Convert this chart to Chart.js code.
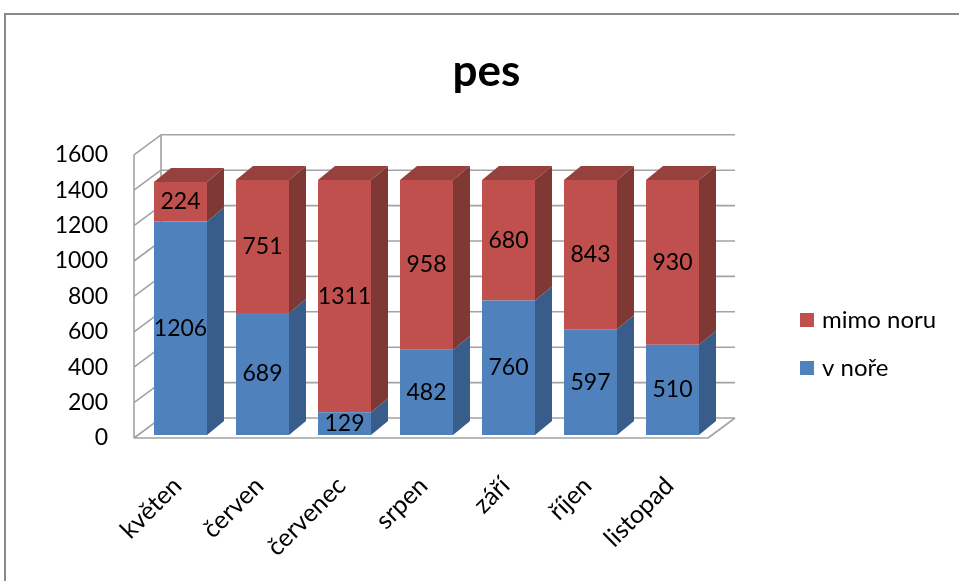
<!DOCTYPE html>
<html>
<head>
<meta charset="utf-8">
<script src="https://cdn.jsdelivr.net/npm/chart.js@4/dist/chart.umd.min.js"></script>
<style>
  html, body { margin: 0; padding: 0; background: #ffffff; }
  #wrap { width: 959px; height: 581px; position: relative; }
</style>
</head>
<body>
<div id="wrap"><canvas id="c" width="959" height="581"></canvas></div>
<script>
// Months and counts per month
const months = ['květen', 'červen', 'červenec', 'srpen', 'září', 'říjen', 'listopad'];
const vNore = [1206, 689, 129, 482, 760, 597, 510];
const mimoNoru = [224, 751, 1311, 958, 680, 843, 930];
const yTicks = [0, 200, 400, 600, 800, 1000, 1200, 1400, 1600];

const FONT = 'Lato, "Open Sans", sans-serif';

// colours: front face, side face, top face
const BLUE = { front: '#4f81bd', side: '#385d8a', top: '#46719f' };
const RED  = { front: '#c0504d', side: '#7f3834', top: '#96413e' };

// depth of the boxes and of the walls
const BAR_DX = 17, BAR_DY = -14;
const WALL_DX = 27, WALL_DY = -20;
const WALL_SHIFT_X = -5.5, WALL_SHIFT_Y = 3;

const depthPlugin = {
  id: 'depth3d',
  beforeDraw(chart) {
    const ctx = chart.ctx;
    ctx.save();
    ctx.fillStyle = '#ffffff';
    ctx.fillRect(0, 0, chart.width, chart.height);
    ctx.strokeStyle = '#8a8a8a';
    ctx.lineWidth = 2;
    ctx.strokeRect(5, 14, chart.width + 50, chart.height + 50);
    ctx.restore();
  },
  beforeDatasetsDraw(chart) {
    const ctx = chart.ctx;
    const area = chart.chartArea;
    const ys = chart.scales.y;
    const fl = area.left + WALL_SHIFT_X;
    const fr = area.right + WALL_SHIFT_X;
    const py = v => ys.getPixelForValue(v) + WALL_SHIFT_Y;
    const top = py(yTicks[yTicks.length - 1]);
    const bottom = py(0);

    ctx.save();
    ctx.strokeStyle = '#a3a3a3';
    ctx.lineWidth = 1.6;
    ctx.lineJoin = 'round';
    ctx.beginPath();
    // back wall lines and left wall diagonals
    yTicks.forEach(v => {
      const y = py(v);
      ctx.moveTo(fl, y);
      ctx.lineTo(fl + WALL_DX, y + WALL_DY);
      ctx.lineTo(fr + WALL_DX, y + WALL_DY);
    });
    // left wall edges
    ctx.moveTo(fl, top); ctx.lineTo(fl, bottom);
    ctx.moveTo(fl + WALL_DX, top + WALL_DY); ctx.lineTo(fl + WALL_DX, bottom + WALL_DY);
    // floor front edge and right edge
    ctx.moveTo(fl, bottom); ctx.lineTo(fr, bottom); ctx.lineTo(fr + WALL_DX, bottom + WALL_DY);
    ctx.stroke();
    ctx.restore();

    // side and top faces of the boxes
    const palettes = [BLUE, RED];
    const last = chart.data.datasets.length - 1;
    chart.data.datasets.forEach((ds, di) => {
      const meta = chart.getDatasetMeta(di);
      const pal = palettes[di];
      meta.data.forEach(bar => {
        const { x, y, base, width } = bar.getProps(['x', 'y', 'base', 'width'], true);
        const x0 = x - width / 2, x1 = x + width / 2;
        ctx.save();
        ctx.fillStyle = pal.side;
        ctx.beginPath();
        ctx.moveTo(x1, y);
        ctx.lineTo(x1 + BAR_DX, y + BAR_DY);
        ctx.lineTo(x1 + BAR_DX, base + BAR_DY);
        ctx.lineTo(x1, base);
        ctx.closePath();
        ctx.fill();
        if (di === last) {
          ctx.fillStyle = pal.top;
          ctx.beginPath();
          ctx.moveTo(x0, y);
          ctx.lineTo(x1, y);
          ctx.lineTo(x1 + BAR_DX, y + BAR_DY);
          ctx.lineTo(x0 + BAR_DX, y + BAR_DY);
          ctx.closePath();
          ctx.fill();
        }
        ctx.restore();
      });
    });
  },
  afterDatasetsDraw(chart) {
    // value labels in the middle of each front face
    const ctx = chart.ctx;
    ctx.save();
    ctx.font = '23px ' + FONT;
    ctx.fillStyle = '#000000';
    ctx.textAlign = 'center';
    ctx.textBaseline = 'middle';
    chart.data.datasets.forEach((ds, di) => {
      chart.getDatasetMeta(di).data.forEach((bar, i) => {
        const { x, y, base } = bar.getProps(['x', 'y', 'base'], true);
        ctx.fillText(String(ds.data[i]), x, (y + base) / 2);
      });
    });
    ctx.restore();
  },
  afterDraw(chart) {
    // legend, top series first
    const ctx = chart.ctx;
    ctx.save();
    ctx.font = '24px ' + FONT;
    ctx.textBaseline = 'middle';
    ctx.textAlign = 'left';
    const items = chart.data.datasets.slice().reverse();
    items.forEach((ds, i) => {
      const cy = 320 + i * 48;
      ctx.fillStyle = ds.backgroundColor;
      ctx.fillRect(800, cy - 7, 14, 14);
      ctx.fillStyle = '#000000';
      ctx.fillText(ds.label, 822, cy);
    });
    ctx.restore();
  }
};

new Chart(document.getElementById('c'), {
  type: 'bar',
  data: {
    labels: months,
    datasets: [
      { label: 'v noře', data: vNore, backgroundColor: BLUE.front, borderWidth: 0 },
      { label: 'mimo noru', data: mimoNoru, backgroundColor: RED.front, borderWidth: 0 }
    ]
  },
  options: {
    responsive: false,
    animation: false,
    layout: { padding: { left: 14, right: 0, top: 0, bottom: 0 } },
    datasets: { bar: { categoryPercentage: 1, barPercentage: 53 / 82 } },
    plugins: {
      legend: { display: false },
      tooltip: { enabled: false },
      title: {
        display: true,
        text: 'pes',
        color: '#000000',
        font: { family: FONT, size: 44, weight: 'bold' },
        padding: { top: 45, bottom: 54 }
      }
    },
    scales: {
      x: {
        stacked: true,
        grid: { display: false },
        border: { display: false },
        ticks: {
          color: '#000000',
          font: { family: FONT, size: 25 },
          minRotation: 45,
          maxRotation: 45,
          autoSkip: false,
          padding: 28,
          labelOffset: -3
        },
        afterFit(scale) { scale.height = 146; }
      },
      y: {
        stacked: true,
        min: 0,
        max: 1600,
        grid: { display: false, drawTicks: false },
        border: { display: false },
        ticks: {
          stepSize: 200,
          color: '#000000',
          font: { family: FONT, size: 23 },
          padding: 31.5,
          labelOffset: 3,
          callback: v => String(v)
        },
        afterFit(scale) { scale.width = 125.5; }
      },
      // empty band on the right that holds the legend
      legendSpace: {
        type: 'linear',
        position: 'right',
        display: true,
        grid: { display: false, drawTicks: false },
        border: { display: false },
        ticks: { display: false },
        afterFit(scale) { scale.width = 245.5; }
      }
    }
  },
  plugins: [depthPlugin]
});
</script>
</body>
</html>
